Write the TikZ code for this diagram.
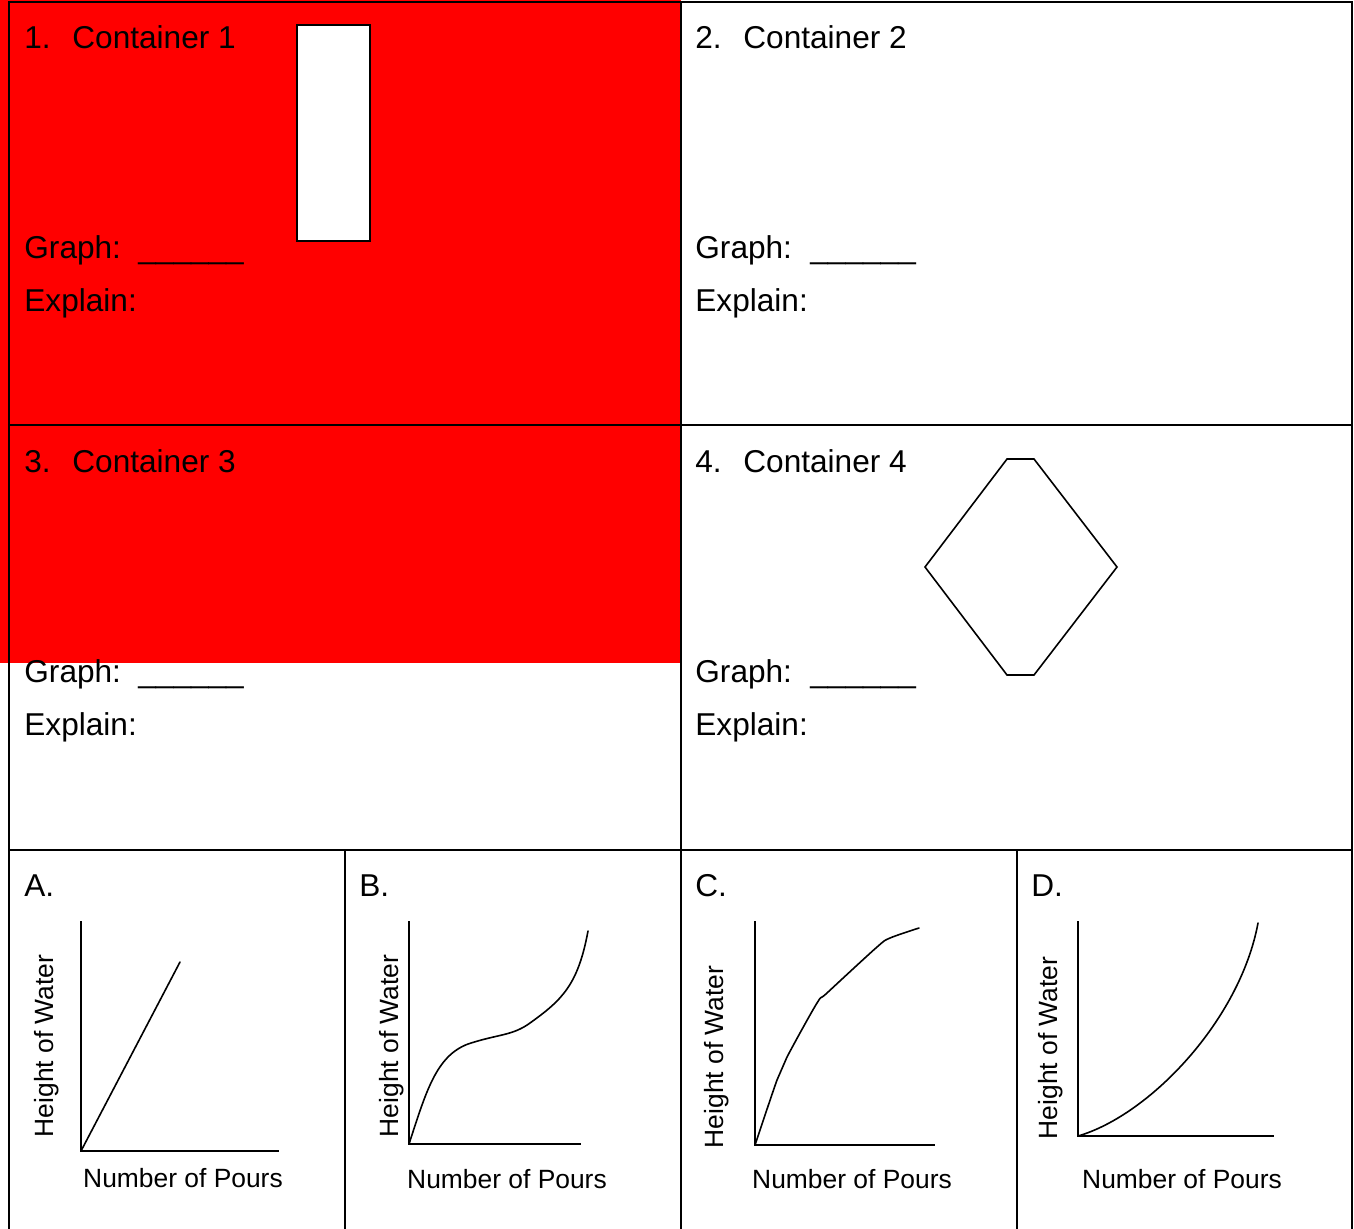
\documentclass[tikz,border=0pt]{standalone}
\usepackage{fontspec}
\setmainfont{Liberation Sans}
\begin{document}
\begin{tikzpicture}[x=0.5pt,y=-0.5pt,
  big/.style={inner sep=0pt,anchor=base west,font=\fontsize{15.8}{18}\selectfont},
  small/.style={inner sep=0pt,font=\fontsize{13.2}{15}\selectfont},
  ylab/.style={small,rotate=90,anchor=base},
  xlab/.style={small,anchor=base},
  grid/.style={line width=1pt,black},
  axis/.style={line width=0.95pt,black},
  curve/.style={line width=0.8pt,black,line join=round,line cap=round}]
\useasboundingbox (0,0) rectangle (1354,1228);
% red highlight
\fill[red] (0,0) rectangle (681,663);
% table
\draw[grid] (8.5,1240) -- (8.5,2) -- (1352,2) -- (1352,1240);
\draw[grid] (8.5,425) -- (1352,425);
\draw[grid] (8.5,850) -- (1352,850);
\draw[grid] (681,2) -- (681,1240);
\draw[grid] (345,850) -- (345,1240);
\draw[grid] (1017,850) -- (1017,1240);
% container 1 shape
\draw[line width=0.8pt,fill=white] (297,25) rectangle (370,241);
% container 4 shape
\draw[line width=0.8pt,fill=white,line join=miter] (1007,459) -- (1034,459) -- (1117,567) -- (1034,675) -- (1007,675) -- (925,567) -- cycle;
% cell 1
\node[big] (n1) at (24,48) {1.};
\node[big] (t1) at (72,48) {Container 1};
\node[big] (g1) at (24,258) {Graph:};
\node[big] (u1) at (138,258) {\_\_\_\_\_\_};
\node[big] (e1) at (24,311) {Explain:};
% cell 2
\node[big] (n2) at (695,48) {2.};
\node[big] (t2) at (743,48) {Container 2};
\node[big] (g2) at (695,258) {Graph:};
\node[big] (u2) at (810,258) {\_\_\_\_\_\_};
\node[big] (e2) at (695,311) {Explain:};
% cell 3
\node[big] (n3) at (24,472) {3.};
\node[big] (t3) at (72,472) {Container 3};
\node[big] (g3) at (24,682) {Graph:};
\node[big] (u3) at (138,682) {\_\_\_\_\_\_};
\node[big] (e3) at (24,735) {Explain:};
% cell 4
\node[big] (n4) at (695,472) {4.};
\node[big] (t4) at (743,472) {Container 4};
\node[big] (g4) at (695,682) {Graph:};
\node[big] (u4) at (810,682) {\_\_\_\_\_\_};
\node[big] (e4) at (695,735) {Explain:};
% graph letters
\node[big] (la) at (24,896) {A.};
\node[big] (lb) at (359,896) {B.};
\node[big] (lc) at (695,896) {C.};
\node[big] (ld) at (1031,896) {D.};
% graph A
\draw[axis] (81,921) -- (81,1151) -- (279,1151);
\draw[curve] (81,1151) -- (180,962);
\node[ylab] (ya) at (54,1046) {Height of Water};
\node[xlab] (xa) at (183,1187) {Number of Pours};
% graph B
\draw[axis] (409,921) -- (409,1144) -- (581,1144);
\draw[curve] (409,1144) .. controls (426,1092) and (436,1056) .. (468,1044)
  .. controls (498,1034) and (512,1036) .. (530,1023)
  .. controls (562,1000) and (578,985) .. (588,931);
\node[ylab] (yb) at (398,1046) {Height of Water};
\node[xlab] (xb) at (507,1188) {Number of Pours};
% graph C
\draw[axis] (755,921) -- (755,1145) -- (935,1145);
\draw[curve] plot[smooth,tension=0.5] coordinates {(755,1145) (777,1080) (787,1057) (817,1003) (827,993) (877,947) (890,938) (919,928)};
\node[ylab] (yc) at (723,1057) {Height of Water};
\node[xlab] (xc) at (852,1188) {Number of Pours};
% graph D
\draw[axis] (1078,921) -- (1078,1136) -- (1274,1136);
\draw[curve] (1078,1136) .. controls (1150,1115) and (1240,1020) .. (1258,923);
\node[ylab] (yd) at (1057,1048) {Height of Water};
\node[xlab] (xd) at (1182,1188) {Number of Pours};
\end{tikzpicture}
\end{document}
